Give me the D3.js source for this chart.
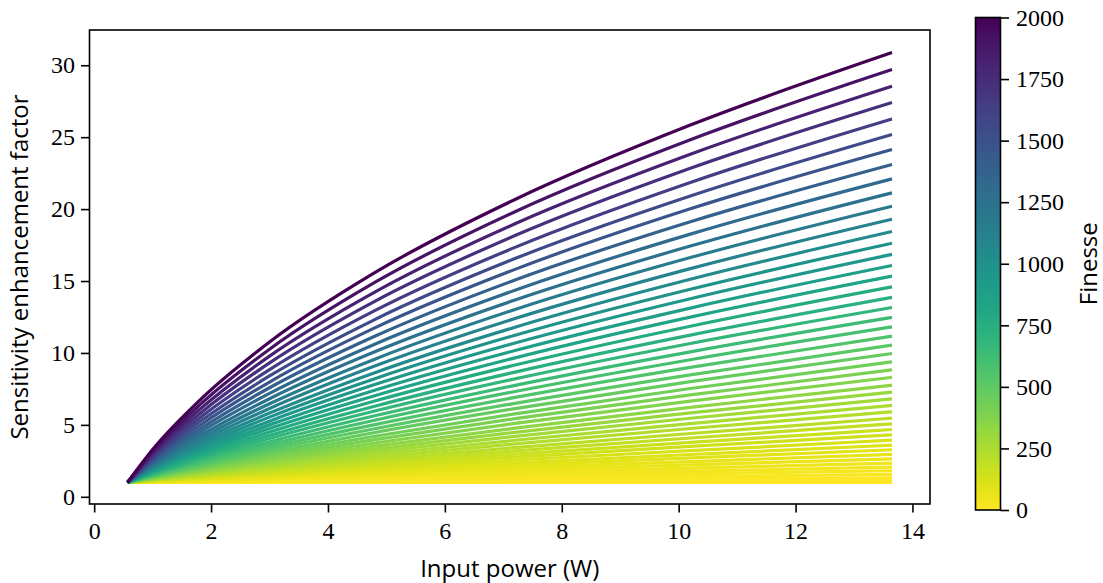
<!DOCTYPE html>
<html lang="en">
<head>
  <meta charset="UTF-8">
  <title>Sensitivity enhancement vs input power</title>
  <script src="https://d3js.org/d3.v7.min.js"></script>
  <style>
    body { margin: 0; background: #fff; }
    .tick-label { font-family: "Liberation Serif", "DejaVu Serif", serif; font-size: 24px; fill: #000; }
    .axis-label { font-family: "Open Sans", "DejaVu Sans", sans-serif; font-size: 24px; fill: #000; }
  </style>
</head>
<body>
  <div id="chart"></div>

  <script>
    // Input power samples (W), shared by all curves
    const power = [0.57, 1.0, 1.8, 3.0, 4.8, 7.2, 10.2, 13.65];

    // Finesse of each curve (top curve first)
    const finesse = [
      2000, 1906, 1814, 1725, 1636, 1551, 1472, 1393, 1317, 1245,
      1176, 1110, 1048, 990, 935, 880, 829, 777, 727, 680,
      634, 590, 549, 508, 471, 435, 401, 369, 336, 308,
      280, 254, 229, 205, 183, 162, 143, 124, 106, 91,
      76, 61, 48, 36, 26, 17, 9, 3, 1, 0
    ];

    // Sensitivity enhancement factor read at each power sample, one row per finesse
    const enhancement = [
      [1, 3.29, 6.69, 10.76, 15.58, 20.67, 25.84, 30.88],
      [1, 3.15, 6.37, 10.26, 14.90, 19.82, 24.82, 29.70],
      [1, 3.02, 6.06, 9.78, 14.23, 18.98, 23.81, 28.54],
      [1, 2.89, 5.76, 9.31, 13.59, 18.16, 22.84, 27.41],
      [1, 2.76, 5.47, 8.84, 12.94, 17.34, 21.85, 26.27],
      [1, 2.65, 5.20, 8.40, 12.32, 16.56, 20.91, 25.18],
      [1, 2.54, 4.94, 7.98, 11.74, 15.81, 20.02, 24.14],
      [1, 2.43, 4.69, 7.58, 11.16, 15.07, 19.12, 23.10],
      [1, 2.34, 4.46, 7.19, 10.61, 14.36, 18.26, 22.10],
      [1, 2.24, 4.23, 6.82, 10.08, 13.68, 17.43, 21.13],
      [1, 2.16, 4.03, 6.47, 9.57, 13.02, 16.63, 20.20],
      [1, 2.08, 3.83, 6.14, 9.09, 12.39, 15.86, 19.30],
      [1, 2.01, 3.65, 5.82, 8.63, 11.79, 15.12, 18.44],
      [1, 1.94, 3.48, 5.54, 8.21, 11.23, 14.43, 17.63],
      [1, 1.88, 3.32, 5.26, 7.80, 10.69, 13.77, 16.85],
      [1, 1.82, 3.17, 5.00, 7.41, 10.17, 13.12, 16.08],
      [1, 1.76, 3.03, 4.75, 7.03, 9.66, 12.49, 15.34],
      [1, 1.71, 2.89, 4.50, 6.66, 9.16, 11.86, 14.59],
      [1, 1.66, 2.75, 4.27, 6.30, 8.67, 11.24, 13.86],
      [1, 1.61, 2.63, 4.05, 5.96, 8.20, 10.66, 13.16],
      [1, 1.56, 2.51, 3.83, 5.63, 7.75, 10.08, 12.47],
      [1, 1.52, 2.40, 3.63, 5.32, 7.32, 9.53, 11.81],
      [1, 1.48, 2.29, 3.44, 5.02, 6.91, 9.00, 11.17],
      [1, 1.44, 2.19, 3.26, 4.73, 6.50, 8.48, 10.54],
      [1, 1.41, 2.10, 3.09, 4.47, 6.13, 8.01, 9.96],
      [1, 1.37, 2.02, 2.93, 4.21, 5.77, 7.53, 9.38],
      [1, 1.34, 1.94, 2.78, 3.97, 5.43, 7.08, 8.83],
      [1, 1.32, 1.86, 2.64, 3.74, 5.10, 6.65, 8.30],
      [1, 1.29, 1.78, 2.50, 3.52, 4.77, 6.22, 7.76],
      [1, 1.26, 1.72, 2.38, 3.32, 4.48, 5.83, 7.28],
      [1, 1.24, 1.66, 2.26, 3.12, 4.20, 5.46, 6.81],
      [1, 1.22, 1.60, 2.15, 2.94, 3.93, 5.09, 6.35],
      [1, 1.20, 1.54, 2.04, 2.76, 3.68, 4.75, 5.91],
      [1, 1.18, 1.49, 1.94, 2.59, 3.42, 4.40, 5.47],
      [1, 1.16, 1.44, 1.84, 2.44, 3.19, 4.09, 5.07],
      [1, 1.14, 1.39, 1.76, 2.29, 2.97, 3.78, 4.68],
      [1, 1.13, 1.35, 1.67, 2.15, 2.76, 3.50, 4.31],
      [1, 1.11, 1.31, 1.59, 2.01, 2.56, 3.21, 3.94],
      [1, 1.10, 1.27, 1.52, 1.89, 2.36, 2.94, 3.59],
      [1, 1.08, 1.23, 1.45, 1.77, 2.19, 2.70, 3.27],
      [1, 1.07, 1.20, 1.38, 1.66, 2.02, 2.45, 2.95],
      [1, 1.06, 1.16, 1.32, 1.55, 1.85, 2.22, 2.64],
      [1, 1.05, 1.13, 1.26, 1.45, 1.69, 1.99, 2.34],
      [1, 1.04, 1.10, 1.20, 1.35, 1.55, 1.78, 2.06],
      [1, 1.03, 1.08, 1.15, 1.27, 1.41, 1.60, 1.81],
      [1, 1.02, 1.05, 1.11, 1.18, 1.29, 1.41, 1.56],
      [1, 1.01, 1.03, 1.06, 1.10, 1.16, 1.24, 1.32],
      [1, 1.00, 1.01, 1.02, 1.04, 1.07, 1.10, 1.13],
      [1, 1.00, 1.00, 1.01, 1.02, 1.03, 1.04, 1.05],
      [1, 1.00, 1.00, 1.00, 1.00, 1.00, 1.00, 1.00]
    ];

    const xTicks = [0, 2, 4, 6, 8, 10, 12, 14];
    const yTicks = [0, 5, 10, 15, 20, 25, 30];
    const cbarTicks = [0, 250, 500, 750, 1000, 1250, 1500, 1750, 2000];

    const width = 1103;
    const height = 583;
    const plot = { left: 89.5, right: 930, top: 30, bottom: 504 };
    const cbar = { left: 975.5, right: 1000.5, top: 17.5, bottom: 510 };
    const tickLen = 8.5;

    const svg = d3.select("#chart").append("svg")
        .attr("width", width)
        .attr("height", height);

    const x = d3.scaleLinear().domain([-0.08, 14.3]).range([plot.left, plot.right]);
    const y = d3.scaleLinear().domain([-0.5, 32.45]).range([plot.bottom, plot.top]);
    const c = d3.scaleLinear().domain([0, 2000]).range([cbar.bottom, cbar.top]);
    const color = f => d3.interpolateViridis(1 - f / 2000);

    svg.append("clipPath").attr("id", "clip")
      .append("rect")
        .attr("x", plot.left).attr("y", plot.top)
        .attr("width", plot.right - plot.left).attr("height", plot.bottom - plot.top);

    // Curves: lowest finesse first so the high-finesse ones sit on top
    const series = finesse.map((f, i) => ({ f, values: enhancement[i] })).reverse();

    const line = d3.line()
        .x((d, i) => x(power[i]))
        .y(d => y(d))
        .curve(d3.curveMonotoneX);

    svg.append("g")
        .attr("clip-path", "url(#clip)")
        .attr("fill", "none")
        .attr("stroke-width", 3.2)
      .selectAll("path")
      .data(series)
      .join("path")
        .attr("stroke", d => color(d.f))
        .attr("d", d => line(d.values));

    // Axes
    const xAxis = d3.axisBottom(x).tickValues(xTicks).tickSize(tickLen).tickPadding(6).tickFormat(d3.format("d"));
    const yAxis = d3.axisLeft(y).tickValues(yTicks).tickSize(tickLen).tickPadding(6).tickFormat(d3.format("d"));

    const gx = svg.append("g").attr("transform", `translate(0,${plot.bottom})`).call(xAxis);
    const gy = svg.append("g").attr("transform", `translate(${plot.left},0)`).call(yAxis);
    [gx, gy].forEach(g => {
      g.select(".domain").remove();
      g.selectAll(".tick line").attr("stroke", "#000").attr("stroke-width", 1.6);
      g.selectAll(".tick text").attr("class", "tick-label").attr("font-size", null).attr("font-family", null);
    });
    gx.selectAll(".tick text").attr("dy", "0.85em");

    // Frame
    svg.append("rect")
        .attr("x", plot.left).attr("y", plot.top)
        .attr("width", plot.right - plot.left).attr("height", plot.bottom - plot.top)
        .attr("fill", "none").attr("stroke", "#000").attr("stroke-width", 1.6);

    svg.append("text")
        .attr("class", "axis-label")
        .attr("x", (plot.left + plot.right) / 2)
        .attr("y", 577)
        .attr("text-anchor", "middle")
        .text("Input power (W)");

    svg.append("text")
        .attr("class", "axis-label")
        .attr("transform", `translate(28,${(plot.top + plot.bottom) / 2}) rotate(-90)`)
        .attr("text-anchor", "middle")
        .text("Sensitivity enhancement factor");

    // Colorbar
    const grad = svg.append("defs").append("linearGradient")
        .attr("id", "viridis")
        .attr("x1", 0).attr("y1", 1).attr("x2", 0).attr("y2", 0);
    grad.selectAll("stop")
      .data(d3.range(0, 1.0001, 0.02))
      .join("stop")
        .attr("offset", d => d)
        .attr("stop-color", d => color(d * 2000));

    svg.append("rect")
        .attr("x", cbar.left).attr("y", cbar.top)
        .attr("width", cbar.right - cbar.left).attr("height", cbar.bottom - cbar.top)
        .attr("fill", "url(#viridis)")
        .attr("stroke", "#000").attr("stroke-width", 1.6);

    const cAxis = d3.axisRight(c).tickValues(cbarTicks).tickSize(tickLen).tickPadding(7).tickFormat(d3.format("d"));
    const gc = svg.append("g").attr("transform", `translate(${cbar.right},0)`).call(cAxis);
    gc.select(".domain").remove();
    gc.selectAll(".tick line").attr("stroke", "#000").attr("stroke-width", 1.6);
    gc.selectAll(".tick text").attr("class", "tick-label").attr("font-size", null).attr("font-family", null);

    svg.append("text")
        .attr("class", "axis-label")
        .attr("transform", `translate(1097,${(cbar.top + cbar.bottom) / 2}) rotate(-90)`)
        .attr("text-anchor", "middle")
        .text("Finesse");
  </script>
</body>
</html>
